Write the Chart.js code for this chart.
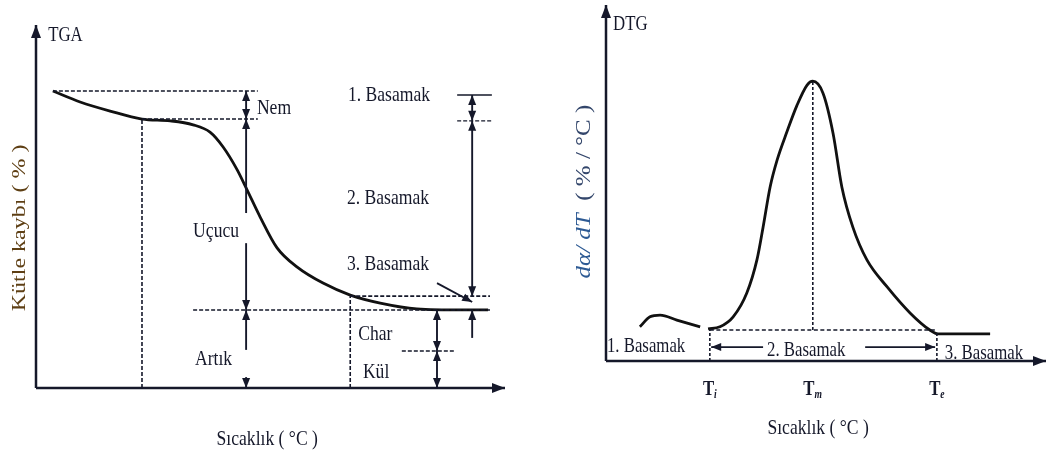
<!DOCTYPE html>
<html lang="tr">
<head>
<meta charset="utf-8">
<title>TGA / DTG</title>
<script src="https://cdn.jsdelivr.net/npm/chart.js@4.4.1/dist/chart.umd.min.js"></script>
<style>
  html, body { margin: 0; padding: 0; background: #fff; }
  #wrap { position: relative; width: 1050px; height: 456px; }
  canvas { position: absolute; top: 0; }
  #tga { left: 0; }
  #dtg { left: 525px; }
</style>
</head>
<body>
<div id="wrap">
  <canvas id="tga" width="525" height="456"></canvas>
  <canvas id="dtg" width="525" height="456"></canvas>
</div>
<script>
// ── Veriler (sıcaklık ekseni 0-100 keyfi birim) ─────────────────────────────
// TGA: kütle (%) - sıcaklık
const tgaTemp = [3.6, 9.4, 15.8, 22.6, 28.6, 33.5, 37.1, 39.9, 42.9, 45.0, 47.8, 51.4, 55.7, 61.2, 67.0, 73.4, 81.2, 91.0, 96.4];
const tgaMass = [81.8, 78.8, 76.3, 74.1, 73.6, 72.5, 70.5, 66.4, 60.1, 54.6, 47.1, 38.6, 33.3, 28.9, 25.6, 23.4, 21.8, 21.5, 21.5];

// TGA seviyeleri: başlangıç, kuruma sonu, char, artık, kül
const tgaLevels = { start: 81.8, dry: 74.1, char: 25.3, residue: 21.5, ash: 10.2 };

// DTG: nem piki (küçük tümsek) ve ana bozunma piki
const dtgBumpTemp = [7.7, 10.0, 12.3, 16.1, 21.4];
const dtgBumpRate = [9.6, 12.4, 12.9, 11.5, 9.6];
const dtgTemp = [23.2, 25.9, 28.9, 32.0, 34.3, 35.7, 37.3, 38.9, 41.1, 43.4, 45.7, 47.0, 49.3, 51.6, 53.6, 56.1, 59.3, 63.9, 69.1, 73.6, 75.5, 87.3];
const dtgRate = [9.0, 9.6, 12.4, 19.1, 28.4, 37.6, 48.9, 56.5, 64.3, 71.8, 77.5, 78.6, 75.3, 64.0, 48.9, 37.6, 28.4, 20.8, 13.5, 8.7, 7.6, 7.6];

// DTG karakteristik sıcaklıkları ve taban çizgisi
const dtgTi = 23.6, dtgTm = 47.0, dtgTe = 75.2, dtgBase = 8.7;

// ── Ortak yardımcılar ──────────────────────────────────────────────────────
const INK = '#15182a';
const SERIF = '"Liberation Serif", "Times New Roman", serif';
const SQUEEZE = 0.8; // yazılar yatayda dar

function toPoints(xs, ys) { return xs.map((x, i) => ({ x, y: ys[i] })); }

function P(chart, x, y) {
    return { x: chart.scales.x.getPixelForValue(x), y: chart.scales.y.getPixelForValue(y) };
}

function seg(ctx, a, b, dash, width) {
    ctx.save();
    ctx.strokeStyle = INK;
    ctx.lineWidth = width || 1.6;
    ctx.setLineDash(dash || []);
    ctx.beginPath();
    ctx.moveTo(a.x, a.y);
    ctx.lineTo(b.x, b.y);
    ctx.stroke();
    ctx.restore();
}

// ok ucu "to" noktasında, "from" yönünden gelir
function head(ctx, from, to, len, half) {
    len = len || 10; half = half || 4;
    const ang = Math.atan2(to.y - from.y, to.x - from.x);
    ctx.save();
    ctx.fillStyle = INK;
    ctx.translate(to.x, to.y);
    ctx.rotate(ang);
    ctx.beginPath();
    ctx.moveTo(0, 0);
    ctx.lineTo(-len, -half);
    ctx.lineTo(-len, half);
    ctx.closePath();
    ctx.fill();
    ctx.restore();
}

function arrow(ctx, a, b, both) {
    seg(ctx, a, b, null, 1.9);
    head(ctx, a, b);
    if (both) head(ctx, b, a);
}

function text(ctx, s, x, y, o) {
    o = o || {};
    ctx.save();
    ctx.font = o.font || ('22px ' + SERIF);
    ctx.fillStyle = o.color || INK;
    ctx.textAlign = o.align || 'left';
    ctx.textBaseline = 'alphabetic';
    ctx.translate(x, y);
    if (o.vertical) {
        ctx.rotate(-Math.PI / 2);
        ctx.scale(1, SQUEEZE);
    } else {
        ctx.scale(SQUEEZE, 1);
    }
    ctx.fillText(s, 0, 0);
    ctx.restore();
}

function axes(ctx, chart) {
    const o = P(chart, 0, 0), top = P(chart, 0, 100), right = P(chart, 100, 0);
    seg(ctx, o, top, null, 2.5);
    seg(ctx, o, right, null, 2.5);
    head(ctx, o, top, 13, 5);
    head(ctx, o, right, 13, 5);
}

// T_x etiketleri (kalın T + alt indis)
function tLabel(ctx, sub, cx, y) {
    ctx.save();
    ctx.font = 'bold 21px ' + SERIF;
    const wT = ctx.measureText('T').width * SQUEEZE;
    ctx.font = 'bold 12px ' + SERIF;
    const wS = ctx.measureText(sub).width * SQUEEZE;
    ctx.restore();
    const x0 = cx - (wT + wS) / 2;
    text(ctx, 'T', x0, y, { font: 'bold 21px ' + SERIF });
    text(ctx, sub, x0 + wT, y + 3, { font: 'bold italic 12px ' + SERIF });
}

function baseOptions(padding) {
    return {
        responsive: false,
        animation: false,
        devicePixelRatio: 1,
        events: [],
        layout: { padding },
        plugins: { legend: { display: false }, tooltip: { enabled: false } },
        scales: {
            x: { type: 'linear', min: 0, max: 100, display: false },
            y: { type: 'linear', min: 0, max: 100, display: false }
        },
        elements: {
            point: { radius: 0 },
            line: { borderColor: '#111', borderWidth: 2.8, cubicInterpolationMode: 'monotone', fill: false }
        }
    };
}

// ── TGA paneli ─────────────────────────────────────────────────────────────
const tgaDecor = {
    id: 'tgaDecor',
    afterDatasetsDraw(chart) {
        const ctx = chart.ctx;
        const L = tgaLevels;
        const dash = [4, 2];
        axes(ctx, chart);

        // seviye çizgileri
        seg(ctx, P(chart, 3.6, L.start), P(chart, 47.3, L.start), dash);
        seg(ctx, P(chart, 22.6, L.dry), P(chart, 47.3, L.dry), dash);
        seg(ctx, P(chart, 33.5, L.residue), P(chart, 96.8, L.residue), dash);
        seg(ctx, P(chart, 67.0, L.char), P(chart, 96.8, L.char), dash);
        seg(ctx, P(chart, 22.6, 0), P(chart, 22.6, L.dry), dash);
        seg(ctx, P(chart, 67.0, 0), P(chart, 67.0, L.char), dash);

        // sağdaki basamak işaretleri
        seg(ctx, P(chart, 89.8, 80.7), P(chart, 97.2, 80.7), null, 1.4);
        seg(ctx, P(chart, 89.8, 73.6), P(chart, 97.2, 73.6), dash, 1.4);
        seg(ctx, P(chart, 78.0, L.ash), P(chart, 89.3, L.ash), dash, 1.4);

        // Nem / Uçucu / Artık okları
        const c = 44.8;
        arrow(ctx, P(chart, c, L.dry), P(chart, c, L.start), true);
        seg(ctx, P(chart, c, L.dry), P(chart, c, 48.2), null, 1.9);
        head(ctx, P(chart, c, 60), P(chart, c, L.dry));
        seg(ctx, P(chart, c, 39.9), P(chart, c, L.residue), null, 1.9);
        head(ctx, P(chart, c, 30), P(chart, c, L.residue));
        seg(ctx, P(chart, c, L.residue), P(chart, c, 10.5), null, 1.9);
        head(ctx, P(chart, c, 10), P(chart, c, L.residue));
        seg(ctx, P(chart, c, 3.0), P(chart, c, 0), null, 1.9);
        head(ctx, P(chart, c, 5), P(chart, c, 0));

        // 1. / 2. basamak okları
        const s = 93.0;
        arrow(ctx, P(chart, s, 73.6), P(chart, s, 80.7), true);
        arrow(ctx, P(chart, s, 73.6), P(chart, s, L.char), true);
        arrow(ctx, P(chart, s, 13.8), P(chart, s, L.residue));
        arrow(ctx, P(chart, 85.5, 28.9), P(chart, 93.0, 23.7));

        // Char / Kül okları
        arrow(ctx, P(chart, 85.5, L.ash), P(chart, 85.5, L.residue), true);
        arrow(ctx, P(chart, 85.5, L.ash), P(chart, 85.5, 0), true);

        // yazılar
        let p;
        p = P(chart, 2.6, 95.6);  text(ctx, 'TGA', p.x, p.y, { font: '21px ' + SERIF });
        p = P(chart, 47.1, 75.5); text(ctx, 'Nem', p.x, p.y);
        p = P(chart, 66.5, 79.1); text(ctx, '1. Basamak', p.x, p.y);
        p = P(chart, 66.3, 50.7); text(ctx, '2. Basamak', p.x, p.y);
        p = P(chart, 66.3, 32.5); text(ctx, '3. Basamak', p.x, p.y);
        p = P(chart, 33.5, 41.6); text(ctx, 'Uçucu', p.x, p.y);
        p = P(chart, 33.9, 6.3);  text(ctx, 'Artık', p.x, p.y);
        p = P(chart, 68.7, 13.2); text(ctx, 'Char', p.x, p.y);
        p = P(chart, 69.7, 2.75); text(ctx, 'Kül', p.x, p.y);
        p = P(chart, 49.3, -15.7); text(ctx, 'Sıcaklık ( °C )', p.x, p.y, { align: 'center' });
        p = P(chart, -2.35, 44.1);
        text(ctx, 'Kütle kaybı ( % )', p.x, p.y, { vertical: true, align: 'center', font: '24px ' + SERIF, color: '#5e3f14' });
    }
};

new Chart(document.getElementById('tga'), {
    type: 'line',
    data: { datasets: [{ data: toPoints(tgaTemp, tgaMass) }] },
    options: baseOptions({ left: 36, top: 25, right: 20, bottom: 68 }),
    plugins: [tgaDecor]
});

// ── DTG paneli ─────────────────────────────────────────────────────────────
const dtgDecor = {
    id: 'dtgDecor',
    afterDatasetsDraw(chart) {
        const ctx = chart.ctx;
        const dash = [4, 2.5];
        axes(ctx, chart);

        seg(ctx, P(chart, dtgTm, dtgBase), P(chart, dtgTm, 78.6), [3, 2]);
        seg(ctx, P(chart, dtgTi, dtgBase), P(chart, dtgTe, dtgBase), dash, 1.5);
        seg(ctx, P(chart, dtgTi, 0), P(chart, dtgTi, dtgBase), [3, 2]);
        seg(ctx, P(chart, dtgTe, 0), P(chart, dtgTe, 7.9), [3, 2]);

        arrow(ctx, P(chart, 35.7, 3.9), P(chart, 23.9, 3.9));
        arrow(ctx, P(chart, 58.9, 3.9), P(chart, 74.8, 3.9));

        let p;
        p = P(chart, 1.6, 93.0);  text(ctx, 'DTG', p.x, p.y, { font: '21px ' + SERIF });
        p = P(chart, 0.2, 2.5);   text(ctx, '1. Basamak', p.x, p.y, { font: '21px ' + SERIF });
        p = P(chart, 36.6, 1.4);  text(ctx, '2. Basamak', p.x, p.y, { font: '21px ' + SERIF });
        p = P(chart, 77.0, 0.6);  text(ctx, '3. Basamak', p.x, p.y, { font: '21px ' + SERIF });

        let q;
        q = P(chart, dtgTi, -9.6); tLabel(ctx, 'i', q.x, q.y);
        q = P(chart, dtgTm, -9.6); tLabel(ctx, 'm', q.x, q.y);
        q = P(chart, dtgTe, -9.6); tLabel(ctx, 'e', q.x, q.y);

        p = P(chart, 48.2, -20.5); text(ctx, 'Sıcaklık ( °C )', p.x, p.y, { align: 'center' });

        // dikey eksen yazısı: italik kısım + birim
        p = P(chart, -3.6, 47.6);
        ctx.save();
        ctx.font = 'italic 25px ' + SERIF;
        const a = 'dα/ dT';
        const wa = ctx.measureText(a).width;
        ctx.font = '25px ' + SERIF;
        const b = '  ( % / °C )';
        const wb = ctx.measureText(b).width;
        ctx.restore();
        const start = p.y + (wa + wb) / 2;
        text(ctx, a, p.x, start, { vertical: true, font: 'italic 25px ' + SERIF, color: '#2d5a94' });
        text(ctx, b, p.x, start - wa, { vertical: true, font: '25px ' + SERIF, color: '#33466b' });
    }
};

new Chart(document.getElementById('dtg'), {
    type: 'line',
    data: {
        datasets: [
            { data: toPoints(dtgBumpTemp, dtgBumpRate) },
            { data: toPoints(dtgTemp, dtgRate) }
        ]
    },
    options: baseOptions({ left: 81, top: 5, right: 4, bottom: 95 }),
    plugins: [dtgDecor]
});
</script>
</body>
</html>
